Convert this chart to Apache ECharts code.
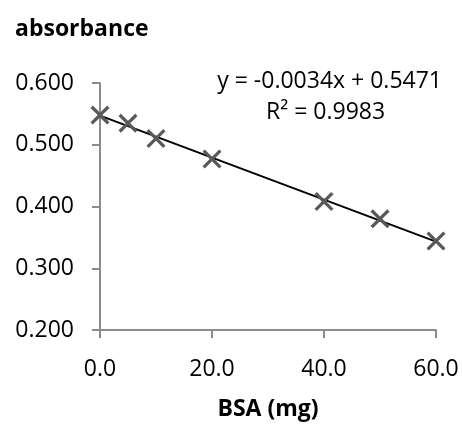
<!DOCTYPE html>
<html>
<head>
<meta charset="utf-8">
<script src="https://cdn.jsdelivr.net/npm/echarts@6/dist/echarts.min.js"></script>
<style>
html,body{margin:0;padding:0;background:#fff;}
#chart{width:462px;height:426px;}
</style>
</head>
<body>
<div id="chart"></div>
<script>
const bsaMg = [0, 5, 10, 20, 40, 50, 60];
const absorbance = [0.548, 0.535, 0.510, 0.477, 0.408, 0.380, 0.344];
const slope = -0.0034;
const intercept = 0.5471;
const rSquared = 0.9983;
const xTicks = [0, 20, 40, 60];
const yTicks = [0.2, 0.3, 0.4, 0.5, 0.6];

const FONT = '"Open Sans", "Noto Sans", sans-serif';
const FS = 23;
const points = bsaMg.map((x, i) => [x, absorbance[i]]);
const xMin = xTicks[0], xMax = xTicks[xTicks.length - 1];
const trend = [[xMin, slope * xMin + intercept], [xMax, slope * xMax + intercept]];

const chart = echarts.init(document.getElementById('chart'), null, {renderer: 'canvas'});
const axisColor = '#8c8c8c';
chart.setOption({
  animation: false,
  backgroundColor: '#fff',
  title: {
    text: 'absorbance', left: 10, top: 13,
    textStyle: {fontFamily: FONT, fontSize: FS, fontWeight: 'bold', color: '#000'}
  },
  grid: {left: 100, right: 26, top: 83, bottom: 96, containLabel: false},
  xAxis: {
    type: 'value', min: xMin, max: xMax, interval: 20,
    name: 'BSA (mg)', nameLocation: 'middle', nameGap: 68,
    nameTextStyle: {fontFamily: FONT, fontSize: FS, fontWeight: 'bold', color: '#000'},
    axisLine: {show: true, lineStyle: {color: axisColor, width: 2}},
    axisTick: {show: true, inside: false, length: 8, lineStyle: {color: axisColor, width: 2}},
    splitLine: {show: false},
    axisLabel: {fontFamily: FONT, fontSize: FS, color: '#000', margin: 28,
      formatter: v => v.toFixed(1)}
  },
  yAxis: {
    type: 'value', min: yTicks[0], max: yTicks[yTicks.length - 1], interval: 0.1,
    axisLine: {show: true, lineStyle: {color: axisColor, width: 2}},
    axisTick: {show: true, inside: false, length: 8, lineStyle: {color: axisColor, width: 2}},
    splitLine: {show: false},
    axisLabel: {fontFamily: FONT, fontSize: FS, color: '#000', margin: 26,
      formatter: v => v.toFixed(3)}
  },
  series: [
    {
      type: 'line', data: trend, symbol: 'none', z: 2,
      lineStyle: {color: '#000', width: 2}
    },
    {
      type: 'scatter', data: points, z: 3,
      symbol: 'path://M1.2,0 L5,3.8 L8.8,0 L10,1.2 L6.2,5 L10,8.8 L8.8,10 L5,6.2 L1.2,10 L0,8.8 L3.8,5 L0,1.2 Z',
      symbolSize: 19,
      itemStyle: {color: '#595959', opacity: 1}
    }
  ],
  graphic: [
    {
      type: 'text', right: 20, top: 70,
      style: {text: 'y = ' + slope.toFixed(4) + 'x + ' + intercept.toFixed(4),
        font: FS + 'px ' + FONT, fill: '#000'}
    },
    {
      type: 'text', left: 266, top: 101,
      style: {text: 'R² = ' + rSquared.toFixed(4), font: FS + 'px ' + FONT, fill: '#000'}
    }
  ]
});
</script>
</body>
</html>
